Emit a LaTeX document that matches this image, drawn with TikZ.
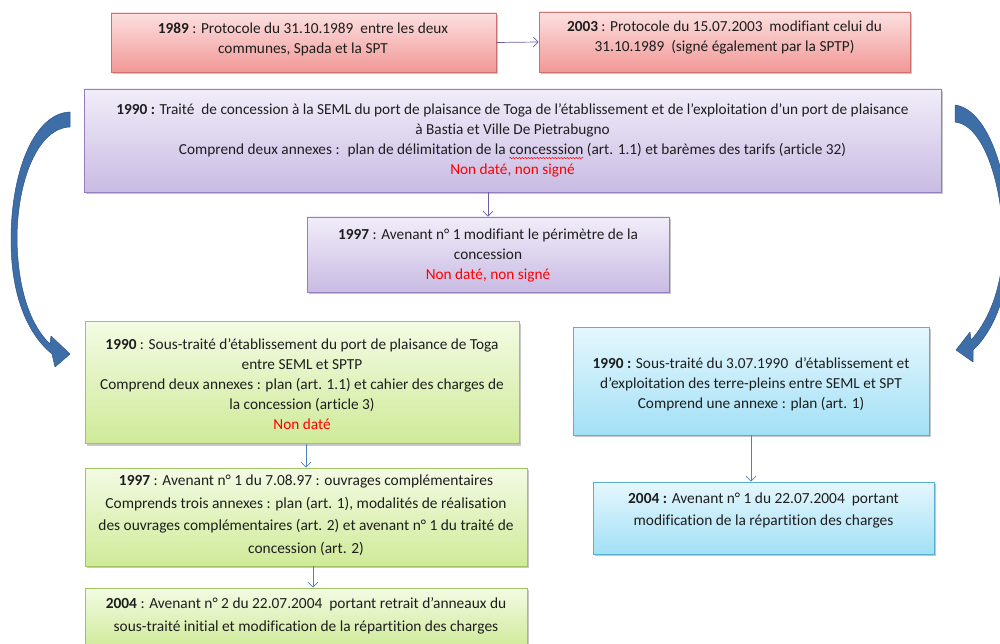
\documentclass[tikz,border=0pt]{standalone}
\usepackage{fontspec}
\setmainfont{Carlito}[RawFeature={-liga;-clig;-dlig;-calt}]
\usetikzlibrary{shadows,arrows.meta,decorations.pathmorphing}
\definecolor{redTop}{RGB}{252,224,224}
\definecolor{redBot}{RGB}{241,152,150}
\definecolor{redBord}{RGB}{205,112,110}
\definecolor{purTop}{RGB}{241,237,249}
\definecolor{purBot}{RGB}{201,187,227}
\definecolor{purBord}{RGB}{150,125,188}
\definecolor{grnTop}{RGB}{243,251,228}
\definecolor{grnBot}{RGB}{207,234,152}
\definecolor{grnBord}{RGB}{160,196,98}
\definecolor{bluTop}{RGB}{230,247,253}
\definecolor{bluBot}{RGB}{162,224,246}
\definecolor{bluBord}{RGB}{88,176,206}
\definecolor{linkBlue}{RGB}{79,129,189}
\definecolor{linkPur}{RGB}{110,92,160}
\definecolor{bigArrow}{RGB}{62,110,168}
\definecolor{bigArrowD}{RGB}{45,85,135}
\definecolor{txtc}{RGB}{30,30,30}
\newsavebox\wavebox
\newlength\wavelen
\newcommand\redwave[1]{\sbox\wavebox{#1}\setlength\wavelen{\wd\wavebox}\rlap{\usebox\wavebox}\tikz[baseline=0pt]{\path[use as bounding box] (0pt,0pt) rectangle (\wavelen,1pt); \draw[red,line width=0.5pt,decorate,decoration={snake,amplitude=0.7pt,segment length=3pt}] (0pt,-3.5pt) -- (\wavelen,-3.5pt);}}
\tikzset{
  box/.style={rectangle, draw, line width=0.8pt, inner sep=0pt,
    drop shadow={shadow xshift=1.5pt, shadow yshift=-2pt, fill=black, opacity=0.22}},
  redbox/.style={box, draw=redBord, top color=redTop, bottom color=redBot},
  purbox/.style={box, draw=purBord, top color=purTop, bottom color=purBot},
  grnbox/.style={box, draw=grnBord, top color=grnTop, bottom color=grnBot},
  blubox/.style={box, draw=bluBord, top color=bluTop, bottom color=bluBot},
  txt/.style={align=center, inner sep=0pt, text=txtc, font=\fontsize{15.3}{20}\selectfont},
  txtw/.style={txt, font=\fontsize{15.4}{22.5}\selectfont},
  link/.style={draw=linkBlue, line width=0.7pt, -{Straight Barb[length=5pt,width=10pt]}},
  plink/.style={link, draw=linkPur},
  bigarrow/.style={fill=bigArrow, draw=bigArrowD, line width=0.5pt, line join=round}
}
\begin{document}
\begin{tikzpicture}[x=1pt,y=-1pt]
\useasboundingbox (0,0) rectangle (1000,644);
\clip (0,0) rectangle (1000,644);
% boxes
\node[redbox, minimum width=385pt, minimum height=59pt] (A) at (303.5,42.5) {};
\node[txt] (At) at (303,39)
  {\textbf{1989} : Protocole du 31.10.1989~ entre les deux\\communes, Spada et la SPT};
\node[redbox, minimum width=371pt, minimum height=60pt] (B) at (724.5,42) {};
\node[txt] (Bt) at (724.5,38)
  {\textbf{2003} : Protocole du 15.07.2003~ modifiant celui du\\31.10.1989~ (signé également par la SPTP)};
\node[purbox, minimum width=857pt, minimum height=103pt] (C) at (512.5,140.5) {};
\node[txt] (Ct) at (512.5,140.5)
  {\textbf{1990 :} Traité~ de concession à la SEML du port de plaisance de Toga de l’établissement et de l’exploitation d’un port de plaisance\\
   à Bastia et Ville De Pietrabugno\\
   Comprend deux annexes :~ plan de délimitation de la \redwave{concesssion} (art. 1.1) et barèmes des tarifs (article 32)\\
   \textcolor{red}{Non daté, non signé}};
\node[purbox, minimum width=362pt, minimum height=75pt] (D) at (488,254.5) {};
\node[txt] (Dt) at (488,255.5)
  {\textbf{1997} : Avenant n° 1 modifiant le périmètre de la\\concession\\\textcolor{red}{Non daté, non signé}};
\node[grnbox, minimum width=434pt, minimum height=122pt] (E) at (302,382.5) {};
\node[txt] (Et) at (302,384.5)
  {\textbf{1990} : Sous-traité d’établissement du port de plaisance de Toga\\
   entre SEML et SPTP\\
   Comprend deux annexes : plan (art. 1.1) et cahier des charges de\\
   la concession (article 3)\\
   \textcolor{red}{Non daté}};
\node[grnbox, minimum width=442pt, minimum height=98pt] (F) at (306,517) {};
\node[txtw] (Ft) at (306,515)
  {\textbf{1997} : Avenant n° 1 du 7.08.97 : ouvrages complémentaires\\
   Comprends trois annexes : plan (art. 1), modalités de réalisation\\
   des ouvrages complémentaires (art. 2) et avenant n° 1 du traité de\\
   concession (art. 2)};
\node[grnbox, minimum width=442pt, minimum height=60pt] (G) at (306,618) {};
\node[txtw] (Gt) at (306,616)
  {\textbf{2004} : Avenant n° 2 du 22.07.2004~ portant retrait d’anneaux du\\
   sous-traité initial et modification de la répartition des charges};
\node[blubox, minimum width=356pt, minimum height=108pt] (H) at (751,381) {};
\node[txt] (Ht) at (751,384.5)
  {\textbf{1990 :} Sous-traité du 3.07.1990~ d’établissement et\\
   d’exploitation des terre-pleins entre SEML et SPT\\
   Comprend une annexe : plan (art. 1)};
\node[blubox, minimum width=341pt, minimum height=72pt] (I) at (763.5,518) {};
\node[txtw] (It) at (763.5,510.5)
  {\textbf{2004 :} Avenant n° 1 du 22.07.2004~ portant\\
   modification de la répartition des charges};
% connectors
\draw[plink] (A.east) -- (B.west);
\draw[plink] (D.north |- C.south) -- (D.north);
\draw[link] (F.north |- E.south) -- (F.north);
\draw[link] ([xshift=7pt]F.south) -- ([xshift=7pt]G.north);
\draw[link] (H.south) -- (H.south |- I.north);
% big curved arrows
\path[bigarrow] (70,112) .. controls (35,113) and (11,170) .. (11,240)
  .. controls (11,300) and (30,336) .. (52,354) -- (55,367) -- (70,354) -- (51,336) -- (50,344)
  .. controls (33,328) and (18,295) .. (17,240)
  .. controls (17,180) and (38,128) .. (70,127) -- cycle;
\path[bigarrow] (955,105) .. controls (992,110) and (1012,190) .. (1010,250)
  .. controls (1008,300) and (990,335) .. (973,350) -- (973,362) -- (956,350) -- (970,332) -- (971,340)
  .. controls (985,325) and (1001,295) .. (1003,250)
  .. controls (1004,190) and (985,125) .. (955,122) -- cycle;
\end{tikzpicture}
\end{document}
